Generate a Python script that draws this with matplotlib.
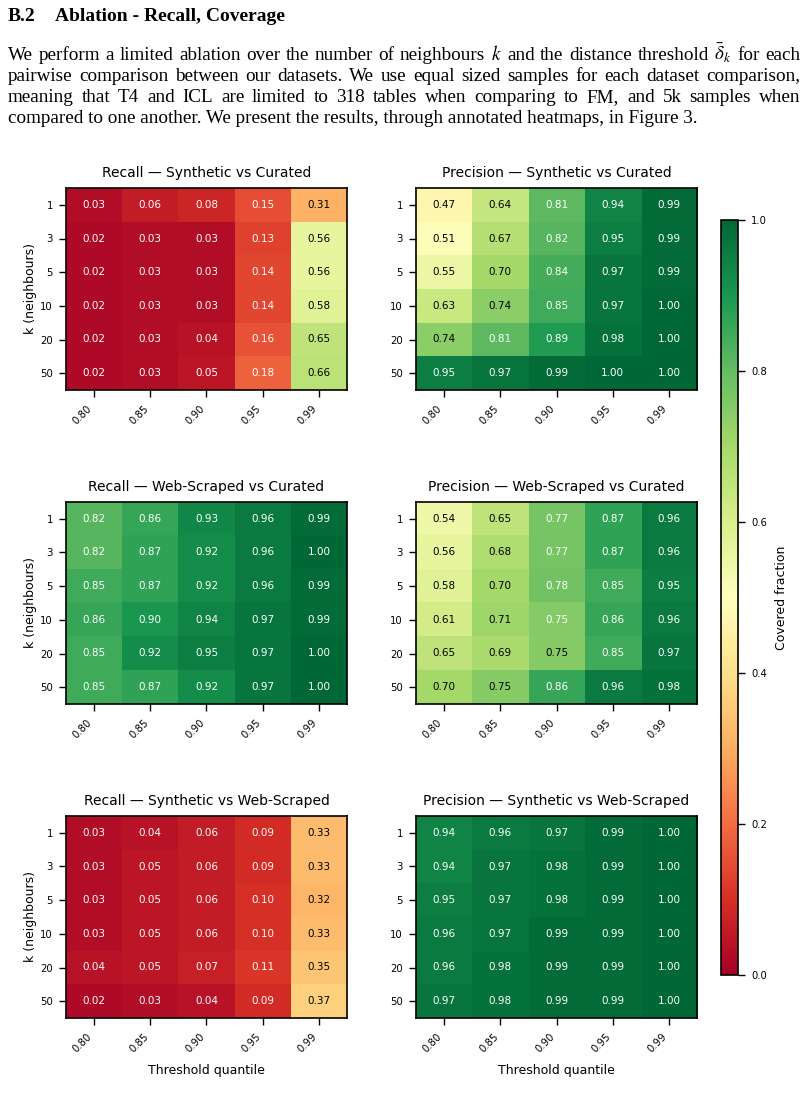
import numpy as np
import matplotlib
matplotlib.use("Agg")
import matplotlib.pyplot as plt

plt.rcParams['mathtext.fontset'] = 'stix'

thresholds = ["0.80", "0.85", "0.90", "0.95", "0.99"]
k_values = ["1", "3", "5", "10", "20", "50"]

recall_syn_cur = [
    [0.03, 0.06, 0.08, 0.15, 0.31],
    [0.02, 0.03, 0.03, 0.13, 0.56],
    [0.02, 0.03, 0.03, 0.14, 0.56],
    [0.02, 0.03, 0.03, 0.14, 0.58],
    [0.02, 0.03, 0.04, 0.16, 0.65],
    [0.02, 0.03, 0.05, 0.18, 0.66],
]
precision_syn_cur = [
    [0.47, 0.64, 0.81, 0.94, 0.99],
    [0.51, 0.67, 0.82, 0.95, 0.99],
    [0.55, 0.70, 0.84, 0.97, 0.99],
    [0.63, 0.74, 0.85, 0.97, 1.00],
    [0.74, 0.81, 0.89, 0.98, 1.00],
    [0.95, 0.97, 0.99, 1.00, 1.00],
]
recall_web_cur = [
    [0.82, 0.86, 0.93, 0.96, 0.99],
    [0.82, 0.87, 0.92, 0.96, 1.00],
    [0.85, 0.87, 0.92, 0.96, 0.99],
    [0.86, 0.90, 0.94, 0.97, 0.99],
    [0.85, 0.92, 0.95, 0.97, 1.00],
    [0.85, 0.87, 0.92, 0.97, 1.00],
]
precision_web_cur = [
    [0.54, 0.65, 0.77, 0.87, 0.96],
    [0.56, 0.68, 0.77, 0.87, 0.96],
    [0.58, 0.70, 0.78, 0.85, 0.95],
    [0.61, 0.71, 0.752, 0.86, 0.96],
    [0.65, 0.69, 0.748, 0.85, 0.97],
    [0.70, 0.748, 0.86, 0.96, 0.98],
]
recall_syn_web = [
    [0.03, 0.04, 0.06, 0.09, 0.33],
    [0.03, 0.05, 0.06, 0.09, 0.33],
    [0.03, 0.05, 0.06, 0.10, 0.32],
    [0.03, 0.05, 0.06, 0.10, 0.33],
    [0.04, 0.05, 0.07, 0.11, 0.35],
    [0.02, 0.03, 0.04, 0.09, 0.37],
]
precision_syn_web = [
    [0.94, 0.96, 0.97, 0.99, 1.00],
    [0.94, 0.97, 0.98, 0.99, 1.00],
    [0.95, 0.97, 0.98, 0.99, 1.00],
    [0.96, 0.97, 0.99, 0.99, 1.00],
    [0.96, 0.98, 0.99, 0.99, 1.00],
    [0.97, 0.98, 0.99, 0.99, 1.00],
]

panels = [
    ("Recall — Synthetic vs Curated", recall_syn_cur),
    ("Precision — Synthetic vs Curated", precision_syn_cur),
    ("Recall — Web-Scraped vs Curated", recall_web_cur),
    ("Precision — Web-Scraped vs Curated", precision_web_cur),
    ("Recall — Synthetic vs Web-Scraped", recall_syn_web),
    ("Precision — Synthetic vs Web-Scraped", precision_syn_web),
]

heading_num = "B.2"
heading = "Ablation - Recall, Coverage"
para_lines = [
    "We perform a limited ablation over the number of neighbours $k$ and the distance threshold $\\bar{\\delta}_k$ for each",
    "pairwise comparison between our datasets. We use equal sized samples for each dataset comparison,",
    "meaning that T4 and ICL are limited to 318 tables when comparing to FM, and 5k samples when",
    "compared to one another. We present the results, through annotated heatmaps, in Figure 3.",
]

W, H = 807, 1104
fig = plt.figure(figsize=(W / 100, H / 100), dpi=100)
renderer = fig.canvas.get_renderer()


def justify(line, y, x0, x1, size, last=False):
    words = line.split(" ")
    # keep math pieces intact
    merged = []
    for w in words:
        if merged and merged[-1].count("$") % 2 == 1:
            merged[-1] += " " + w
        else:
            merged.append(w)
    if last:
        fig.text(x0 / W, 1 - y / H, line, fontsize=size, family="Liberation Serif",
                 va="baseline", ha="left")
        return
    texts = [fig.text(0, 1 - y / H, w, fontsize=size, family="Liberation Serif",
                      va="baseline", ha="left") for w in merged]
    widths = [t.get_window_extent(renderer).width for t in texts]
    gap = (x1 - x0 - sum(widths)) / (len(texts) - 1)
    x = x0
    for t, w in zip(texts, widths):
        t.set_x(x / W)
        x += w + gap


fig.text(8 / W, 1 - 21 / H, heading_num, fontsize=14, fontweight="bold",
         family="Liberation Serif", va="baseline")
fig.text(55 / W, 1 - 21 / H, heading, fontsize=14, fontweight="bold",
         family="Liberation Serif", va="baseline")
for i, line in enumerate(para_lines):
    justify(line, 60 + i * 21, 8, 800, 13.8, last=(i == len(para_lines) - 1))

cmap = plt.get_cmap("RdYlGn")
lefts = [66, 416]
tops = [188, 502, 816]
aw, ah = 281, 202

for idx, (title, vals) in enumerate(panels):
    r, c = divmod(idx, 2)
    ax = fig.add_axes([lefts[c] / W, 1 - (tops[r] + ah) / H, aw / W, ah / H])
    arr = np.array(vals)
    im = ax.imshow(arr, cmap=cmap, vmin=0, vmax=1, aspect="auto")
    for i in range(arr.shape[0]):
        for j in range(arr.shape[1]):
            v = arr[i, j]
            col = "white" if (v < 0.25 or v > 0.75) else "black"
            ax.text(j, i, f"{v:.2f}", ha="center", va="center", fontsize=7.5, color=col)
    ax.set_xticks(range(len(thresholds)))
    ax.set_xticklabels(thresholds, rotation=45, ha="right", fontsize=7.3)
    ax.set_yticks(range(len(k_values)))
    ax.set_yticklabels(k_values, fontsize=7.3)
    ax.tick_params(width=1.0, length=5, pad=4.5)
    ax.set_title(title, fontsize=10, pad=8)
    if c == 0:
        ax.set_ylabel("k (neighbours)", fontsize=9, labelpad=2)
    if r == 2:
        ax.set_xlabel("Threshold quantile", fontsize=9, labelpad=7)
    for s in ax.spines.values():
        s.set_linewidth(1.2)

cax = fig.add_axes([721 / W, 1 - 975 / H, 17 / W, 755 / H])
cb = fig.colorbar(im, cax=cax)
cb.set_ticks([0.0, 0.2, 0.4, 0.6, 0.8, 1.0])
cb.ax.tick_params(labelsize=7.2, width=1.0, length=5, pad=4.5)
cb.set_label("Covered fraction", fontsize=9, labelpad=6)
cb.outline.set_linewidth(1.2)

fig.savefig("out.png", dpi=100)
